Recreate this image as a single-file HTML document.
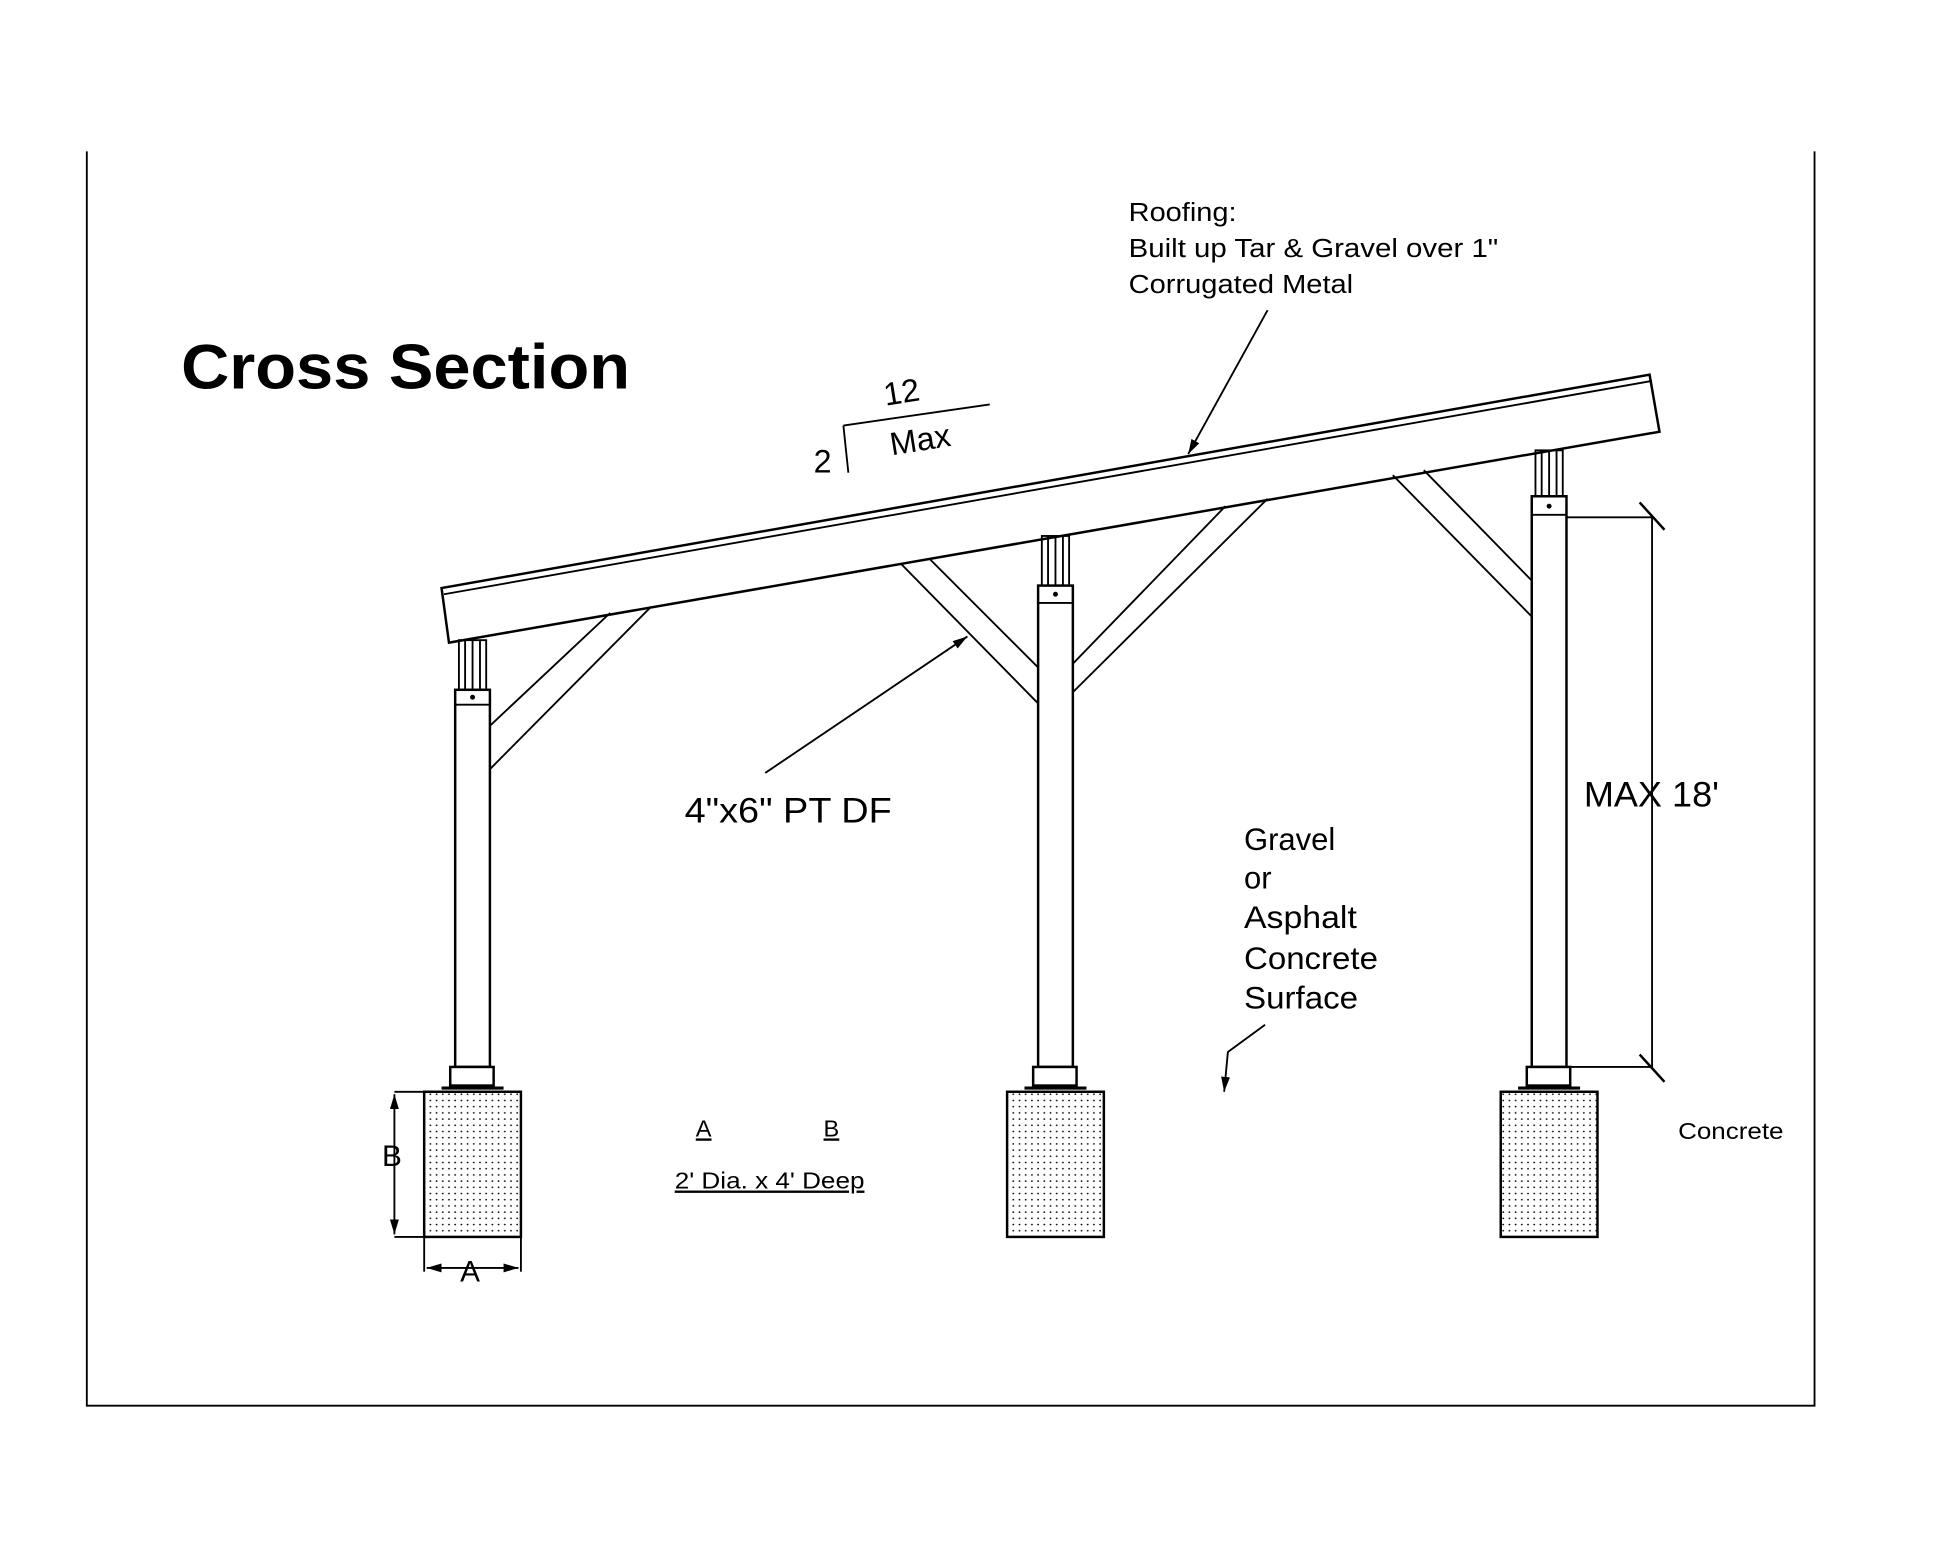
<!DOCTYPE html>
<html><head><meta charset="utf-8"><style>
html,body{margin:0;padding:0;background:#fff;}
svg{display:block;}
text{font-family:"Liberation Sans",sans-serif;fill:#000;}
</style></head><body>
<svg width="1946" height="1557" viewBox="0 0 1569 1255" preserveAspectRatio="none" xmlns="http://www.w3.org/2000/svg">
<defs>
<pattern id="dots" width="5" height="5" patternUnits="userSpaceOnUse"><circle cx="2" cy="2" r="0.7" fill="#000"/></pattern>
<marker id="ar" viewBox="0 0 10 10" refX="10" refY="5" markerWidth="8" markerHeight="8" orient="auto-start-reverse"><path d="M0,2 L10,5 L0,8 z" fill="#000"/></marker>
</defs>
<g stroke="#000" fill="none" stroke-width="1.5">
<polyline points="70,122 70,1133 1463,1133 1463,122"/>
<polygon points="356,474 1330,302 1338,348 362,518" fill="#fff" stroke-width="2"/>
<line x1="358" y1="479" x2="1332" y2="307"/>
<rect x="367" y="556" width="28" height="304" fill="#fff" stroke-width="2"/>
<rect x="837" y="472" width="28" height="388" fill="#fff" stroke-width="2"/>
<rect x="1235" y="400" width="28" height="460" fill="#fff" stroke-width="2"/>
<g stroke-width="1.5">
<rect x="370" y="516" width="22" height="40"/><line x1="375" y1="516" x2="375" y2="556"/><line x1="381" y1="516" x2="381" y2="556"/><line x1="387" y1="516" x2="387" y2="556"/>
<line x1="367" y1="568" x2="395" y2="568"/>
<rect x="840" y="432" width="22" height="40"/><line x1="845" y1="432" x2="845" y2="472"/><line x1="851" y1="432" x2="851" y2="472"/><line x1="857" y1="432" x2="857" y2="472"/>
<line x1="837" y1="486" x2="865" y2="486"/>
<rect x="1238" y="363" width="22" height="37"/><line x1="1243" y1="363" x2="1243" y2="400"/><line x1="1249" y1="363" x2="1249" y2="400"/><line x1="1255" y1="363" x2="1255" y2="400"/>
<line x1="1235" y1="415" x2="1263" y2="415"/>
</g>
<line x1="395" y1="585" x2="492" y2="494"/><line x1="395" y1="620" x2="525" y2="489"/>
<line x1="727" y1="455" x2="837" y2="567"/><line x1="750" y1="451" x2="837" y2="538"/>
<line x1="865" y1="535" x2="988" y2="408"/><line x1="865" y1="558" x2="1022" y2="402"/>
<line x1="1123" y1="383" x2="1235" y2="497"/><line x1="1148" y1="379" x2="1235" y2="468"/>
<rect x="363" y="860" width="35" height="15" fill="#fff" stroke-width="2"/>
<rect x="833" y="860" width="35" height="15" fill="#fff" stroke-width="2"/>
<rect x="1231" y="860" width="35" height="15" fill="#fff" stroke-width="2"/>
<line x1="356" y1="877" x2="406" y2="877" stroke-width="2.5"/>
<line x1="826" y1="877" x2="876" y2="877" stroke-width="2.5"/>
<line x1="1224" y1="877" x2="1274" y2="877" stroke-width="2.5"/>
<rect x="342" y="880" width="78" height="117" fill="url(#dots)" stroke-width="2"/>
<rect x="812" y="880" width="78" height="117" fill="url(#dots)" stroke-width="2"/>
<rect x="1210" y="880" width="78" height="117" fill="url(#dots)" stroke-width="2"/>
<line x1="1263" y1="417" x2="1332" y2="417"/><line x1="1263" y1="860" x2="1332" y2="860"/>
<line x1="1332" y1="417" x2="1332" y2="860"/>
<line x1="1322" y1="405" x2="1342" y2="427" stroke-width="2"/><line x1="1322" y1="850" x2="1342" y2="872" stroke-width="2"/>
<line x1="318" y1="880" x2="342" y2="880"/><line x1="318" y1="997" x2="342" y2="997"/>
<line x1="318" y1="882" x2="318" y2="995" marker-start="url(#ar)" marker-end="url(#ar)"/>
<line x1="342" y1="997" x2="342" y2="1025"/><line x1="420" y1="997" x2="420" y2="1025"/>
<line x1="344" y1="1022" x2="418" y2="1022" marker-start="url(#ar)" marker-end="url(#ar)"/>
<line x1="1022" y1="250" x2="958" y2="366" marker-end="url(#ar)"/>
<line x1="617" y1="623" x2="780" y2="513" marker-end="url(#ar)"/>
<polyline points="1020,826 990,848 987,880" marker-end="url(#ar)"/>
<line x1="680" y1="343" x2="798" y2="326"/><line x1="680" y1="343" x2="684" y2="381"/>
</g>
<g fill="#000">
<circle cx="381" cy="562" r="2"/><circle cx="851" cy="479" r="2"/><circle cx="1249" cy="408" r="2"/>
</g>
<text x="146" y="313" font-size="51" font-weight="bold" textLength="362" lengthAdjust="spacingAndGlyphs">Cross Section</text>
<text x="910" y="178" font-size="21" textLength="87" lengthAdjust="spacingAndGlyphs">Roofing:</text>
<text x="910" y="207" font-size="21" textLength="298" lengthAdjust="spacingAndGlyphs">Built up Tar &amp; Gravel over 1"</text>
<text x="910" y="236" font-size="21" textLength="181" lengthAdjust="spacingAndGlyphs">Corrugated Metal</text>
<text x="0" y="0" font-size="26" transform="translate(714,327) rotate(-9)">12</text>
<text x="0" y="0" font-size="26" transform="translate(719,367) rotate(-9)">Max</text>
<text x="656" y="381" font-size="26">2</text>
<text x="552" y="663" font-size="28" textLength="167" lengthAdjust="spacingAndGlyphs">4"x6" PT DF</text>
<text x="1277" y="650" font-size="28" textLength="109" lengthAdjust="spacingAndGlyphs">MAX 18'</text>
<text x="1003" y="685" font-size="25">Gravel</text>
<text x="1003" y="716" font-size="25">or</text>
<text x="1003" y="748" font-size="25" textLength="91" lengthAdjust="spacingAndGlyphs">Asphalt</text>
<text x="1003" y="781" font-size="25" textLength="108" lengthAdjust="spacingAndGlyphs">Concrete</text>
<text x="1003" y="813" font-size="25" textLength="92" lengthAdjust="spacingAndGlyphs">Surface</text>
<text x="561" y="916" font-size="19" text-decoration="underline">A</text>
<text x="664" y="916" font-size="19" text-decoration="underline">B</text>
<text x="544" y="958" font-size="19" text-decoration="underline" textLength="153" lengthAdjust="spacingAndGlyphs">2' Dia. x 4' Deep</text>
<text x="1353" y="918" font-size="19" textLength="85" lengthAdjust="spacingAndGlyphs">Concrete</text>
<text x="308" y="940" font-size="24">B</text>
<text x="371" y="1033" font-size="24">A</text>
</svg>
</body></html>
